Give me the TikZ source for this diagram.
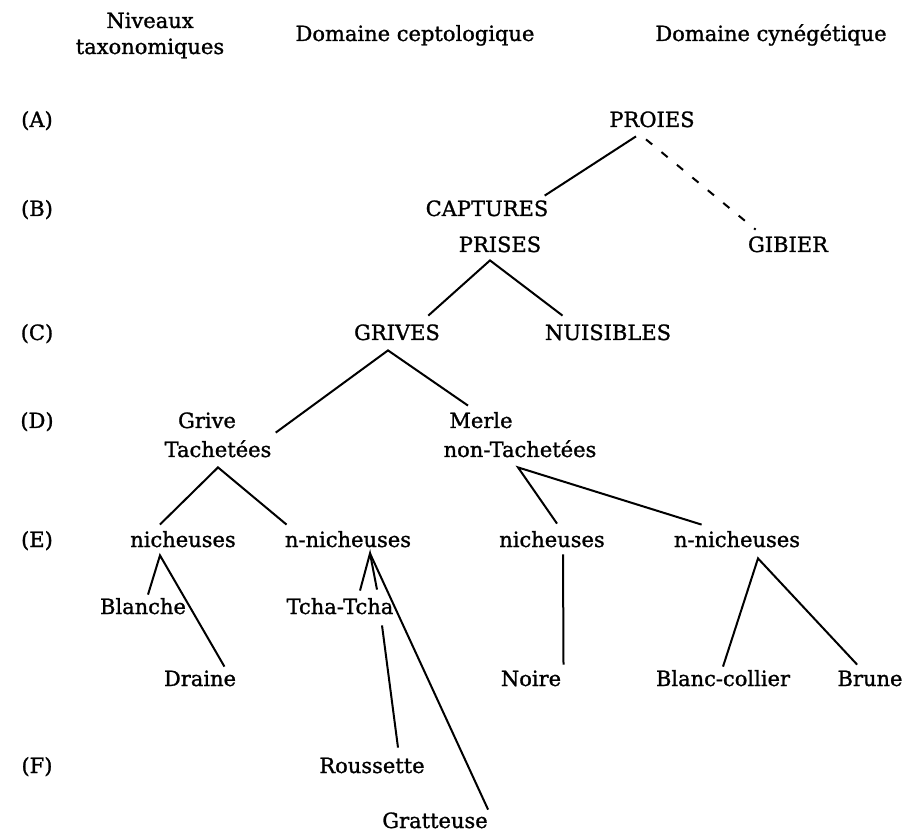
\documentclass[tikz,border=0pt]{standalone}
\usepackage{fontspec}
\setmainfont{DejaVu Serif}[FakeBold=1.2]
\usetikzlibrary{calc}
\begin{document}
\begin{tikzpicture}[x=0.5pt,y=-0.5pt,
  lab/.style={inner sep=0,text height=8pt,text depth=2pt,font=\fontsize{10.5}{12}\selectfont},
  tie/.style={line width=1pt}]
\useasboundingbox (0,0) rectangle (909,833);
% en-tetes
\node[lab] (niv) at (150,22) {Niveaux};
\node[lab] (tax) at (150,48) {taxonomiques};
\node[lab] (cept) at (415,35) {Domaine ceptologique};
\node[lab] (cyn) at (771,35) {Domaine cynégétique};
% niveaux
\foreach \l/\y in {A/121,B/210,C/334,D/422,E/541,F/767}
  \node[lab] (lev\l) at (37,\y) {(\l)};
% termes
\node[lab] (proies) at (652,121) {PROIES};
\node[lab] (captures) at (487,210) {CAPTURES};
\node[lab] (prises) at (500,246) {PRISES};
\node[lab] (gibier) at (788,246) {GIBIER};
\node[lab] (grives) at (397,334) {GRIVES};
\node[lab] (nuisibles) at (608,334) {NUISIBLES};
\node[lab] (grive) at (207,422) {Grive};
\node[lab] (tach) at (218,451) {Tachetées};
\node[lab] (merle) at (481,422) {Merle};
\node[lab] (ntach) at (520,451) {non-Tachetées};
\node[lab] (nich1) at (183,541) {nicheuses};
\node[lab] (nnich1) at (348,541) {n-nicheuses};
\node[lab] (nich2) at (552,541) {nicheuses};
\node[lab] (nnich2) at (737,541) {n-nicheuses};
\node[lab] (blanche) at (143,608) {Blanche};
\node[lab] (tcha) at (340,608) {Tcha-Tcha};
\node[lab] (draine) at (200,680) {Draine};
\node[lab] (noire) at (531,680) {Noire};
\node[lab] (bcollier) at (723,680) {Blanc-collier};
\node[lab] (brune) at (870,680) {Brune};
\node[lab] (roussette) at (372,767) {Roussette};
\node[lab] (gratteuse) at (435,822) {Gratteuse};
% traits
\draw[tie] ($(proies.south)+(-16,5)$) -- ($(captures.north east)+(-4,-4)$);
\draw[tie,dash pattern=on 4pt off 6pt] ($(proies.south)+(-6,8)$) -- ($(gibier.north west)+(8,-6)$);
\draw[tie] ($(grives.north east)+(-12,-8)$) -- ($(prises.south)+(-10,4)$) -- ($(nuisibles.north west)+(18,-8)$);
\draw[tie] ($(tach.north east)+(4,-8)$) -- ($(grives.south)+(-9,6)$) -- ($(merle.north)+(-13,-6)$);
\draw[tie] ($(nich1.north west)+(30,-6)$) -- ($(tach.south)+(0,6)$) -- ($(nnich1.north west)+(2,-6)$);
\draw[tie] ($(nich2.north)+(5,-7)$) -- ($(ntach.south)+(-2,6)$) -- ($(nnich2.north west)+(28,-6)$);
\draw[tie] ($(blanche.north)+(5,-3)$) -- ($(nich1.south)+(-23,4)$) -- ($(draine.north east)+(-12,-3)$);
\draw[tie] ($(tcha.north)+(20,-7)$) -- ($(nnich1.south)+(22,2)$) -- ($(tcha.north)+(37,-8)$);
\draw[tie] ($(nnich1.south)+(22,2)$) -- ($(gratteuse.north east)+(0,-2)$);
\draw[tie] ($(tcha.south)+(42,7)$) -- ($(roussette.north)+(26,-9)$);
\draw[tie] ($(nich2.south)+(11,3)$) -- ($(noire.north east)+(2,-5)$);
\draw[tie] ($(bcollier.north)+(0,-3)$) -- ($(nnich2.south)+(21,7)$) -- ($(brune.north west)+(20,-5)$);
\end{tikzpicture}
\end{document}
